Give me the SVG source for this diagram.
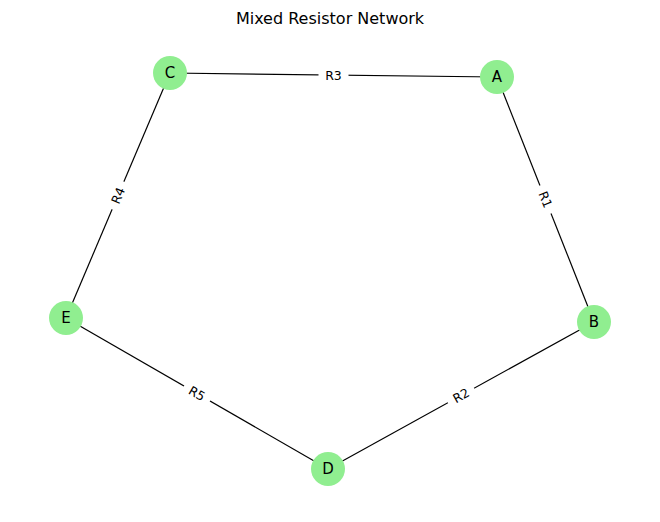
<svg xmlns="http://www.w3.org/2000/svg" width="660" height="522" viewBox="0 0 660 522">
<style>
.edge{stroke:#000;stroke-width:1.2;fill:none}
.node circle{fill:#90ee90}
.node text{font-family:"DejaVu Sans",sans-serif;font-size:15px;text-anchor:middle;dominant-baseline:central;fill:#000}
.el rect{fill:#fff}
.el text{font-family:"DejaVu Sans",sans-serif;font-size:12.5px;text-anchor:middle;dominant-baseline:central;fill:#000}
.title{font-family:"DejaVu Sans",sans-serif;font-size:16px;text-anchor:middle;fill:#000}
</style>
<rect width="660" height="522" fill="#fff"/>
<text class="title" x="330" y="24">Mixed Resistor Network</text>
<g id="connectors">
<line class="edge" x1="497" y1="77" x2="170" y2="73"/>
<line class="edge" x1="497" y1="77" x2="594" y2="322"/>
<line class="edge" x1="170" y1="73" x2="66" y2="318"/>
<line class="edge" x1="66" y1="318" x2="328" y2="469"/>
<line class="edge" x1="328" y1="469" x2="594" y2="322"/>
<g class="el" transform="translate(333.5,75)"><rect x="-15" y="-8" width="30" height="16"/><text>R3</text></g>
<g class="el" transform="translate(545.5,199.5) rotate(68.4)"><rect x="-15" y="-8" width="30" height="16"/><text>R1</text></g>
<g class="el" transform="translate(118,195.5) rotate(-67)"><rect x="-15" y="-8" width="30" height="16"/><text>R4</text></g>
<g class="el" transform="translate(197,393.5) rotate(30)"><rect x="-15" y="-8" width="30" height="16"/><text>R5</text></g>
<g class="el" transform="translate(461,395.5) rotate(-29)"><rect x="-15" y="-8" width="30" height="16"/><text>R2</text></g>
</g>
<g id="node-A" class="node"><circle cx="497" cy="77" r="17"/><text x="497" y="77">A</text></g>
<g id="node-B" class="node"><circle cx="594" cy="322" r="17"/><text x="594" y="322">B</text></g>
<g id="node-C" class="node"><circle cx="170" cy="73" r="17"/><text x="170" y="73">C</text></g>
<g id="node-D" class="node"><circle cx="328" cy="469" r="17"/><text x="328" y="469">D</text></g>
<g id="node-E" class="node"><circle cx="66" cy="318" r="17"/><text x="66" y="318">E</text></g>
</svg>
